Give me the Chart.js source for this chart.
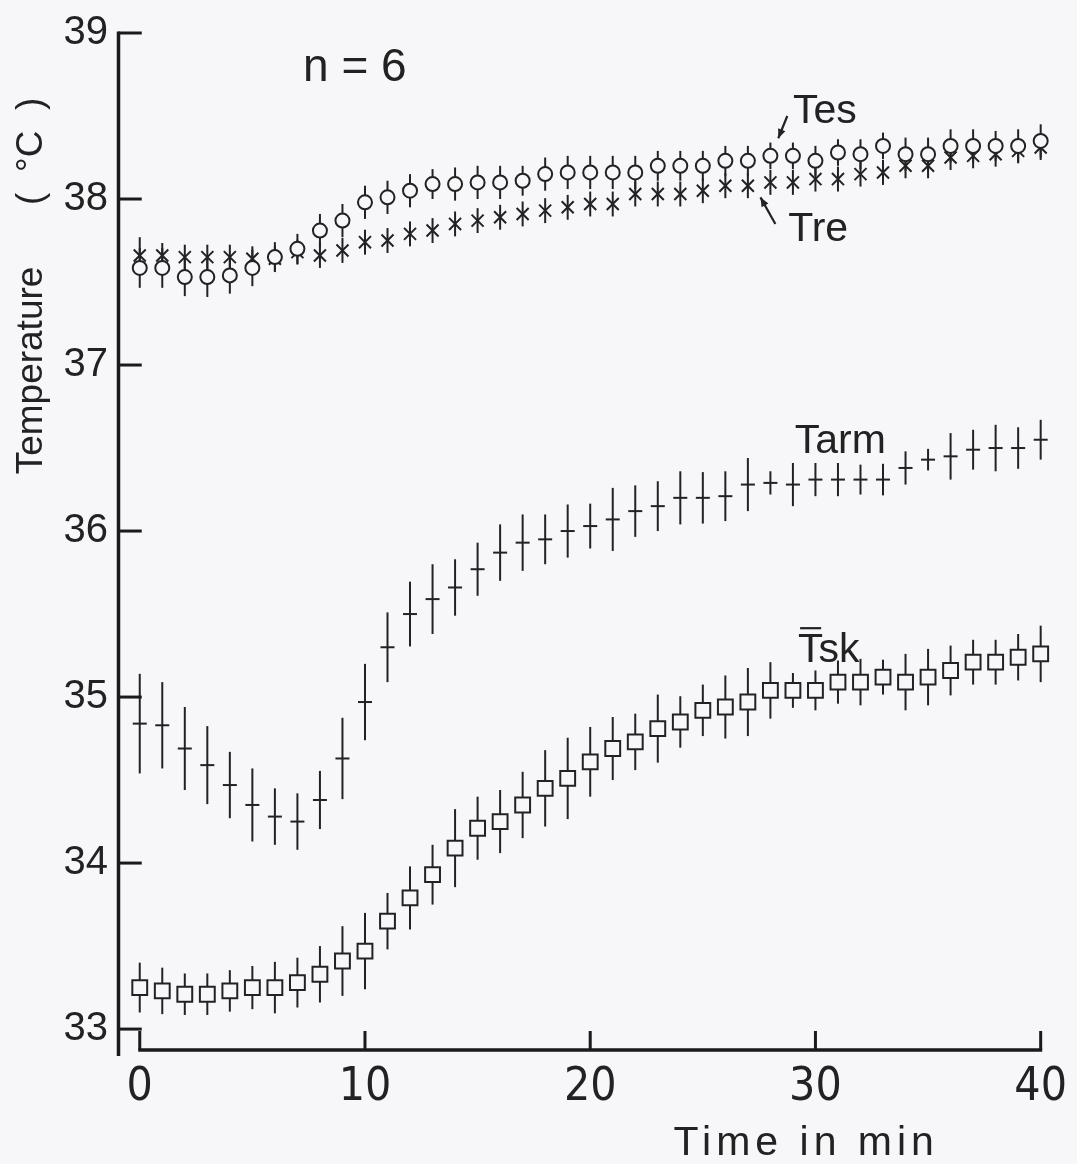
<!DOCTYPE html>
<html><head><meta charset="utf-8">
<script src="https://cdn.jsdelivr.net/npm/chart.js@4/dist/chart.umd.min.js"></script>
<style>html,body{margin:0;padding:0;background:#f7f6f8;}#wrap{width:1077px;height:1164px;position:relative;}</style>
</head><body><div id="wrap"><canvas id="c"></canvas></div>
<script>
// ---- data ----
const minutes = [0,1,2,3,4,5,6,7,8,9,10,11,12,13,14,15,16,17,18,19,20,21,22,23,24,25,26,27,28,29,30,31,32,33,34,35,36,37,38,39,40];
const tesMean = [37.585,37.585,37.53,37.53,37.54,37.585,37.65,37.70,37.81,37.87,37.98,38.01,38.05,38.09,38.09,38.10,38.10,38.11,38.15,38.16,38.16,38.16,38.16,38.20,38.20,38.20,38.23,38.23,38.26,38.26,38.23,38.28,38.27,38.32,38.27,38.27,38.32,38.32,38.32,38.32,38.35];
const tesSD = [0.12,0.12,0.115,0.12,0.11,0.11,0.09,0.09,0.1,0.1,0.1,0.1,0.1,0.09,0.1,0.1,0.1,0.09,0.1,0.1,0.1,0.1,0.1,0.09,0.09,0.09,0.09,0.09,0.08,0.08,0.09,0.08,0.09,0.08,0.1,0.1,0.1,0.1,0.09,0.1,0.1];
const treMean = [37.66,37.66,37.65,37.65,37.65,37.64,37.64,37.68,37.66,37.69,37.74,37.75,37.79,37.81,37.85,37.87,37.89,37.91,37.93,37.95,37.97,37.97,38.03,38.03,38.03,38.05,38.08,38.08,38.10,38.10,38.12,38.12,38.15,38.16,38.20,38.20,38.25,38.26,38.27,38.29,38.31];
const treSD = [0.11,0.075,0.075,0.075,0.075,0.075,0.075,0.075,0.075,0.075,0.075,0.075,0.075,0.075,0.075,0.075,0.075,0.075,0.075,0.075,0.075,0.075,0.075,0.075,0.075,0.075,0.075,0.075,0.075,0.075,0.075,0.075,0.075,0.075,0.075,0.075,0.075,0.075,0.075,0.075,0.075];
const tarmMean = [34.84,34.83,34.69,34.59,34.47,34.35,34.28,34.25,34.38,34.63,34.97,35.30,35.50,35.59,35.66,35.77,35.87,35.93,35.95,36.00,36.03,36.07,36.12,36.15,36.20,36.20,36.21,36.28,36.29,36.28,36.31,36.31,36.31,36.31,36.38,36.43,36.45,36.49,36.50,36.50,36.55];
const tarmSD = [0.30,0.26,0.25,0.235,0.20,0.22,0.17,0.17,0.175,0.245,0.23,0.21,0.195,0.21,0.17,0.16,0.17,0.17,0.15,0.16,0.135,0.19,0.155,0.15,0.16,0.155,0.15,0.16,0.07,0.13,0.10,0.10,0.09,0.095,0.10,0.065,0.14,0.12,0.14,0.125,0.12];
const tskMean = [33.25,33.23,33.21,33.21,33.23,33.25,33.25,33.28,33.33,33.41,33.47,33.65,33.79,33.93,34.09,34.21,34.25,34.35,34.45,34.51,34.61,34.69,34.73,34.81,34.85,34.92,34.94,34.97,35.04,35.04,35.04,35.09,35.09,35.12,35.09,35.12,35.16,35.21,35.21,35.24,35.26];
const tskSD = [0.15,0.14,0.125,0.125,0.125,0.13,0.155,0.15,0.17,0.21,0.23,0.17,0.19,0.18,0.235,0.19,0.19,0.2,0.23,0.245,0.21,0.19,0.17,0.205,0.155,0.155,0.19,0.205,0.17,0.105,0.12,0.13,0.14,0.105,0.17,0.17,0.15,0.135,0.135,0.14,0.17];
const xTickValues = [0,10,20,30,40];
const yTickValues = [33,34,35,36,37,38,39];
const seriesNames = ['Tes','Tre','Tarm','Tsk'];

// ---- style ----
const ink = '#222222';
const paper = '#f7f6f8';
const sans = '"Liberation Sans", Arial, sans-serif';
const narrow = '"Liberation Sans Narrow", "DejaVu Sans Condensed", "Liberation Sans", sans-serif';

function pts(arr){ return minutes.map((m,i)=>({x:m,y:arr[i]})); }

const bgPlugin = {id:'bg', beforeDraw(c){const g=c.ctx;g.save();g.fillStyle=paper;g.fillRect(0,0,c.width,c.height);g.restore();}};

const errPlugin = {id:'err', beforeDatasetsDraw(c){
  const g=c.ctx, xs=c.scales.x, ys=c.scales.y;
  g.save(); g.strokeStyle=ink; g.lineWidth=2; g.lineCap='butt';
  c.data.datasets.forEach(ds=>{
    ds.data.forEach((p,i)=>{
      const e=ds.errors[i]; const x=xs.getPixelForValue(p.x);
      g.beginPath(); g.moveTo(x, ys.getPixelForValue(p.y+e)); g.lineTo(x, ys.getPixelForValue(p.y-e)); g.stroke();
    });
  });
  g.restore();
}};

const axesPlugin = {id:'axes', afterDatasetsDraw(c){
  const g=c.ctx, xs=c.scales.x, ys=c.scales.y, a=c.chartArea;
  g.save(); g.strokeStyle='#1a1a1a'; g.lineCap='butt';
  const yl = a.left+1.5;
  g.lineWidth=3.5;
  g.beginPath(); g.moveTo(yl, ys.getPixelForValue(39)-1.5); g.lineTo(yl, a.bottom+6); g.stroke();
  g.lineWidth=3;
  yTickValues.forEach(v=>{const y=ys.getPixelForValue(v); g.beginPath(); g.moveTo(yl, y); g.lineTo(xs.getPixelForValue(0)+2, y); g.stroke();});
  g.lineWidth=3.5;
  const xb = a.bottom;
  g.beginPath(); g.moveTo(xs.getPixelForValue(0)-1.5, xb); g.lineTo(xs.getPixelForValue(40)+1.5, xb); g.stroke();
  g.lineWidth=3;
  xTickValues.forEach(v=>{const x=xs.getPixelForValue(v); g.beginPath(); g.moveTo(x, xb); g.lineTo(x, xb-19); g.stroke();});
  g.restore();
}};

function arrow(g, x1,y1,x2,y2){
  g.beginPath(); g.moveTo(x1,y1); g.lineTo(x2,y2); g.stroke();
  const ang=Math.atan2(y2-y1,x2-x1), L=10, w=0.4;
  g.beginPath(); g.moveTo(x2,y2);
  g.lineTo(x2-L*Math.cos(ang-w), y2-L*Math.sin(ang-w));
  g.lineTo(x2-L*Math.cos(ang+w), y2-L*Math.sin(ang+w));
  g.closePath(); g.fill();
}

const textPlugin = {id:'texts', afterDraw(c){
  const g=c.ctx, xs=c.scales.x, ys=c.scales.y;
  const X=v=>xs.getPixelForValue(v), Y=v=>ys.getPixelForValue(v);
  g.save(); g.fillStyle=ink; g.strokeStyle=ink; g.textBaseline='alphabetic'; g.textAlign='left';
  g.font='46px '+sans; g.fillText('n = 6', X(7.25), Y(38.71));
  g.font='41px '+sans;
  g.fillText(seriesNames[0], X(29.0), Y(38.46));
  g.fillText(seriesNames[1], X(28.79), Y(37.75));
  g.fillText(seriesNames[2], X(29.08), Y(36.47));
  // Tsk with overbar on T
  const tx=X(29.23), ty=Y(35.21);
  g.fillText(seriesNames[3], tx, ty);
  const tw=g.measureText('T').width;
  g.lineWidth=2.2; g.beginPath(); g.moveTo(tx+2, ty-34); g.lineTo(tx+tw-2, ty-34); g.stroke();
  g.lineWidth=2.2;
  arrow(g, X(28.75), Y(38.50), X(28.35), Y(38.366));
  arrow(g, X(28.22), Y(37.85), X(27.56), Y(38.01));
  // x axis title
  g.font='41px '+sans; g.letterSpacing='5px';
  g.fillText('Time in min', X(23.7), Y(32.242));
  g.letterSpacing='0px';
  // y axis title
  g.translate(42, 286); g.rotate(-Math.PI/2);
  g.font='37px '+sans; g.textAlign='center';
  g.fillText('Temperature      (  \u00B0C  )', 0, 0);
  g.restore();
}};

new Chart(document.getElementById('c'), {
  type:'scatter',
  data:{datasets:[
    {label:seriesNames[0], data:pts(tesMean), errors:tesSD, pointStyle:'circle', pointRadius:7, borderWidth:2, borderColor:ink, backgroundColor:paper, clip:false},
    {label:seriesNames[1], data:pts(treMean), errors:treSD, pointStyle:'crossRot', pointRadius:8.5, borderWidth:2, borderColor:ink, backgroundColor:paper, clip:false},
    {label:seriesNames[2], data:pts(tarmMean), errors:tarmSD, pointStyle:'line', pointRadius:7, borderWidth:2, borderColor:ink, backgroundColor:paper, clip:false},
    {label:seriesNames[3], data:pts(tskMean), errors:tskSD, pointStyle:'rect', pointRadius:10.5, borderWidth:2, borderColor:ink, backgroundColor:paper, clip:false}
  ]},
  options:{
    responsive:true, maintainAspectRatio:false, animation:false, events:[],
    layout:{padding:{top:31.5,right:26,bottom:0,left:0}},
    plugins:{legend:{display:false}, tooltip:{enabled:false}},
    scales:{
      x:{type:'linear', min:-1.01, max:40,
        grid:{display:false, drawTicks:false}, border:{display:false},
        afterBuildTicks:s=>{s.ticks=xTickValues.map(v=>({value:v}));},
        afterFit:s=>{s.height=114;},
        ticks:{font:{family:narrow, size:46}, color:ink, padding:10, maxRotation:0, autoSkip:false}},
      y:{type:'linear', min:32.874, max:39,
        grid:{display:false, drawTicks:false}, border:{display:false},
        afterBuildTicks:s=>{s.ticks=yTickValues.map(v=>({value:v}));},
        afterFit:s=>{s.width=117;},
        ticks:{font:{family:sans, size:40}, color:ink, padding:9, autoSkip:false}}
    }
  },
  plugins:[bgPlugin, errPlugin, axesPlugin, textPlugin]
});
</script></body></html>
